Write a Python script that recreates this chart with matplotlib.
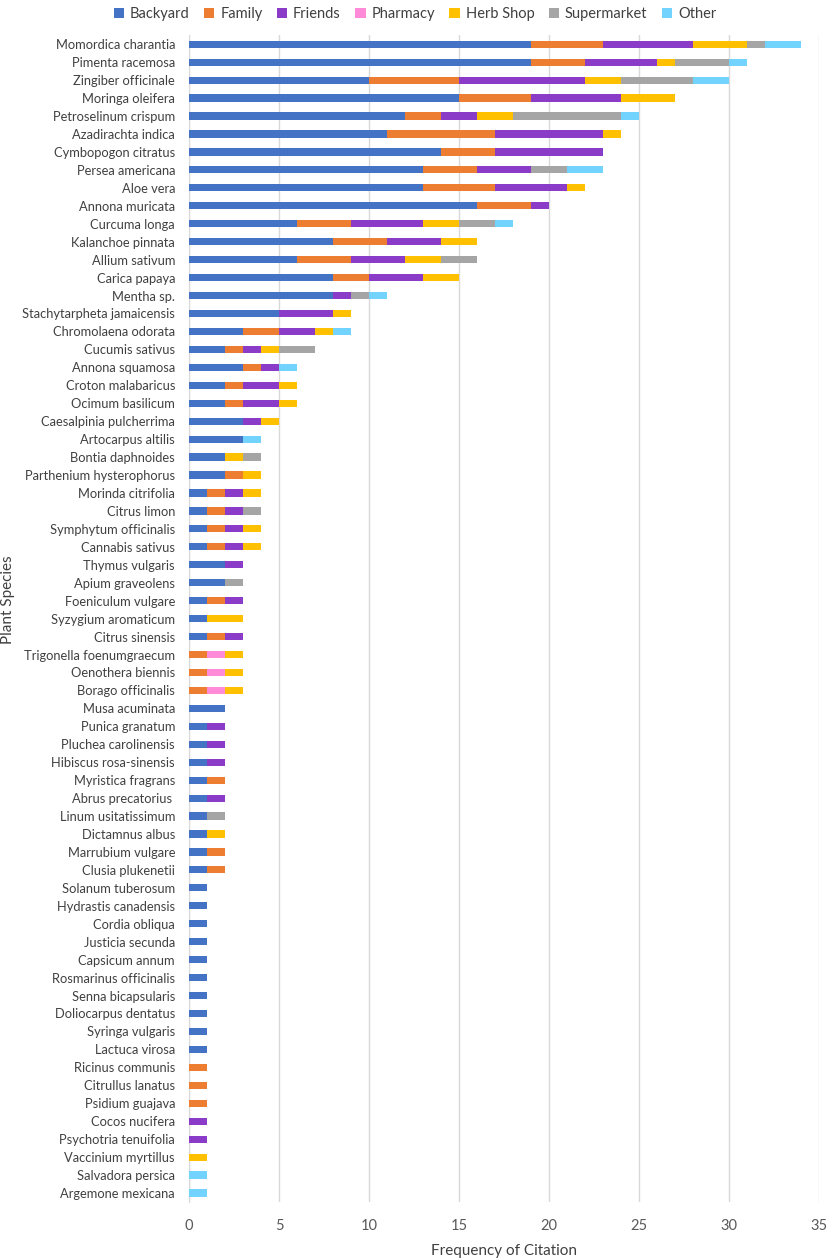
import matplotlib
matplotlib.use("Agg")
import matplotlib.pyplot as plt
import numpy as np

plt.rcParams['font.family'] = ['Lato', 'DejaVu Sans']

species = [
    "Momordica charantia", "Pimenta racemosa", "Zingiber officinale", "Moringa oleifera",
    "Petroselinum crispum", "Azadirachta indica", "Cymbopogon citratus", "Persea americana",
    "Aloe vera", "Annona muricata",
    "Curcuma longa", "Kalanchoe pinnata", "Allium sativum", "Carica papaya", "Mentha sp.",
    "Stachytarpheta jamaicensis", "Chromolaena odorata", "Cucumis sativus", "Annona squamosa",
    "Croton malabaricus",
    "Ocimum basilicum", "Caesalpinia pulcherrima", "Artocarpus altilis", "Bontia daphnoides",
    "Parthenium hysterophorus", "Morinda citrifolia", "Citrus limon", "Symphytum officinalis",
    "Cannabis sativus", "Thymus vulgaris",
    "Apium graveolens", "Foeniculum vulgare", "Syzygium aromaticum", "Citrus sinensis",
    "Trigonella foenumgraecum", "Oenothera biennis", "Borago officinalis", "Musa acuminata",
    "Punica granatum", "Pluchea carolinensis",
    "Hibiscus rosa-sinensis", "Myristica fragrans", "Abrus precatorius ", "Linum usitatissimum",
    "Dictamnus albus", "Marrubium vulgare", "Clusia plukenetii", "Solanum tuberosum",
    "Hydrastis canadensis", "Cordia obliqua",
    "Justicia secunda", "Capsicum annum", "Rosmarinus officinalis", "Senna bicapsularis",
    "Doliocarpus dentatus", "Syringa vulgaris", "Lactuca virosa", "Ricinus communis",
    "Citrullus lanatus", "Psidium guajava",
    "Cocos nucifera", "Psychotria tenuifolia", "Vaccinium myrtillus", "Salvadora persica",
    "Argemone mexicana",
]

backyard = [19, 19, 10, 15, 12, 11, 14, 13, 13, 16,
            6, 8, 6, 8, 8, 5, 3, 2, 3, 2,
            2, 3, 3, 2, 2, 1, 1, 1, 1, 2,
            2, 1, 1, 1, 0, 0, 0, 2, 1, 1,
            1, 1, 1, 1, 1, 1, 1, 1, 1, 1,
            1, 1, 1, 1, 1, 1, 1, 0, 0, 0,
            0, 0, 0, 0, 0]
family = [4, 3, 5, 4, 2, 6, 3, 3, 4, 3,
          3, 3, 3, 2, 0, 0, 2, 1, 1, 1,
          1, 0, 0, 0, 1, 1, 1, 1, 1, 0,
          0, 1, 0, 1, 1, 1, 1, 0, 0, 0,
          0, 1, 0, 0, 0, 1, 1, 0, 0, 0,
          0, 0, 0, 0, 0, 0, 0, 1, 1, 1,
          0, 0, 0, 0, 0]
friends = [5, 4, 7, 5, 2, 6, 6, 3, 4, 1,
           4, 3, 3, 3, 1, 3, 2, 1, 1, 2,
           2, 1, 0, 0, 0, 1, 1, 1, 1, 1,
           0, 1, 0, 1, 0, 0, 0, 0, 1, 1,
           1, 0, 1, 0, 0, 0, 0, 0, 0, 0,
           0, 0, 0, 0, 0, 0, 0, 0, 0, 0,
           1, 1, 0, 0, 0]
pharmacy = [0, 0, 0, 0, 0, 0, 0, 0, 0, 0,
            0, 0, 0, 0, 0, 0, 0, 0, 0, 0,
            0, 0, 0, 0, 0, 0, 0, 0, 0, 0,
            0, 0, 0, 0, 1, 1, 1, 0, 0, 0,
            0, 0, 0, 0, 0, 0, 0, 0, 0, 0,
            0, 0, 0, 0, 0, 0, 0, 0, 0, 0,
            0, 0, 0, 0, 0]
herb_shop = [3, 1, 2, 3, 2, 1, 0, 0, 1, 0,
             2, 2, 2, 2, 0, 1, 1, 1, 0, 1,
             1, 1, 0, 1, 1, 1, 0, 1, 1, 0,
             0, 0, 2, 0, 1, 1, 1, 0, 0, 0,
             0, 0, 0, 0, 1, 0, 0, 0, 0, 0,
             0, 0, 0, 0, 0, 0, 0, 0, 0, 0,
             0, 0, 1, 0, 0]
supermarket = [1, 3, 4, 0, 6, 0, 0, 2, 0, 0,
               2, 0, 2, 0, 1, 0, 0, 2, 0, 0,
               0, 0, 0, 1, 0, 0, 1, 0, 0, 0,
               1, 0, 0, 0, 0, 0, 0, 0, 0, 0,
               0, 0, 0, 1, 0, 0, 0, 0, 0, 0,
               0, 0, 0, 0, 0, 0, 0, 0, 0, 0,
               0, 0, 0, 0, 0]
other = [2, 1, 2, 0, 1, 0, 0, 2, 0, 0,
         1, 0, 0, 0, 1, 0, 1, 0, 1, 0,
         0, 0, 1, 0, 0, 0, 0, 0, 0, 0,
         0, 0, 0, 0, 0, 0, 0, 0, 0, 0,
         0, 0, 0, 0, 0, 0, 0, 0, 0, 0,
         0, 0, 0, 0, 0, 0, 0, 0, 0, 0,
         0, 0, 0, 1, 1]

series_names = ["Backyard", "Family", "Friends", "Pharmacy", "Herb Shop", "Supermarket", "Other"]
series_values = [backyard, family, friends, pharmacy, herb_shop, supermarket, other]
colors = ["#4472C4", "#ED7D31", "#8A3CC8", "#FF8BD8", "#FFC000", "#A5A5A5", "#72D3FF"]

fig = plt.figure(figsize=(8.3, 12.59), dpi=100)
ax = fig.add_axes([0.2277, 0.0453, 0.9867 - 0.2277, 0.972 - 0.0453])

y = np.arange(len(species))
left = np.zeros(len(species))
for name, vals, c in zip(series_names, series_values, colors):
    v = np.array(vals, dtype=float)
    ax.barh(y, v, left=left, height=0.4, color=c, label=name, zorder=3)
    left += v

ax.set_ylim(len(species) - 0.5, -0.5)
ax.set_xlim(0, 35)
ax.set_xticks(np.arange(0, 36, 5))
ax.set_yticks(y)
ax.set_yticklabels(species, fontsize=9.3, color="#404040")
ax.tick_params(axis='x', labelsize=10.5, colors="#595959", length=0, pad=12)
ax.tick_params(axis='y', length=0, pad=10)
ax.grid(axis='x', color="#D9D9D9", linewidth=1, zorder=0)
for s in ["top", "right", "bottom"]:
    ax.spines[s].set_visible(False)
ax.spines["left"].set_color("#D9D9D9")
ax.spines["left"].set_zorder(1)

ax.set_xlabel("Frequency of Citation", fontsize=11, color="#404040", labelpad=8)
ax.set_ylabel("Plant Species", fontsize=11, color="#404040")
ax.yaxis.set_label_coords(-0.276, 0.516)

fig.legend(loc="upper center", bbox_to_anchor=(0.5, 1.005), ncol=7, frameon=False,
           fontsize=10.5, handlelength=0.7, handleheight=0.7, handletextpad=0.4,
           columnspacing=1.0, labelcolor="#404040")

fig.savefig("out.png", dpi=100)
